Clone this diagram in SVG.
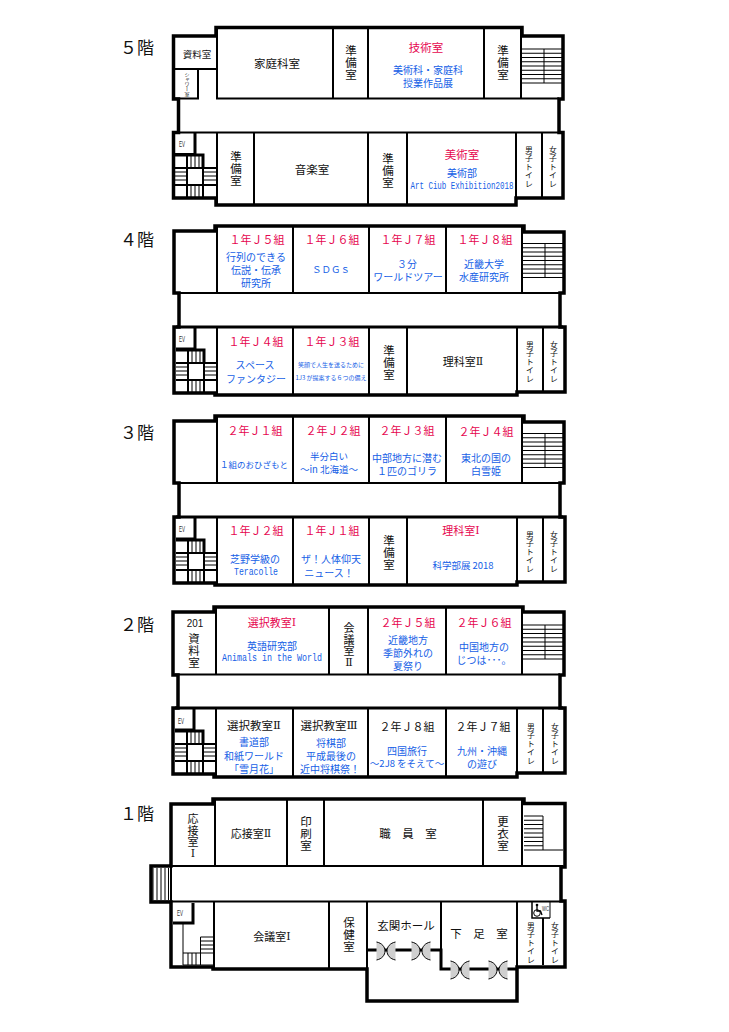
<svg xmlns="http://www.w3.org/2000/svg" xmlns:xlink="http://www.w3.org/1999/xlink" width="729" height="1032" viewBox="0 0 729 1032">
<style>
text{font-family:"Noto Sans CJK JP","Noto Sans",sans-serif;text-anchor:middle;dominant-baseline:central;fill:#111}
.r{fill:#e6064f}.b{fill:#1560e6}
.m{font-family:"Liberation Mono",monospace}
.n{font-family:"DejaVu Serif",serif}
.s6{font-size:6px}.s85{font-size:8.5px}.s95{font-size:9.5px}.s10{font-size:10px}.s11{font-size:11px}.s115{font-size:11.5px}.s12{font-size:11.5px}.s16{font-size:17px}
.v{writing-mode:vertical-rl}
.t{font-size:7.8px}
.ev{font-family:"Liberation Sans",sans-serif;font-size:9px;fill:#333}
.o{fill:#fff;stroke:#000;stroke-width:3.5}
.w{fill:none;stroke:#000;stroke-width:2}
.h{fill:none;stroke:#000;stroke-width:3}
.f{fill:none;stroke:#000;stroke-width:1}
</style>
<defs>
<g id="stairL">
<path class="h" d="M0,0H28V13"/>
<path class="w" d="M0,13H42M12,0V43M28,13V43M0,30H42"/>
<path class="f" d="M0,17H12M0,21H12M0,25H12M28,17H42M28,21H42M28,25H42M16,0V13M20,0V13M24,0V13M16,30V43M20,30V43M24,30V43"/>
</g>
<g id="stairR">
<path class="f" d="M0,0H40M0,4.25H40M0,8.5H40M0,12.75H40M0,17H40M0,21.25H40M0,25.5H40M0,29.75H40M0,34H40M22,0V34"/>
</g>
<g id="door">
<path fill="#cfcfcf" d="M-9.5,-9C-4,-8 -1,-4 -1,0C-1,4 -4,8 -9.5,9ZM9.5,-9C4,-8 1,-4 1,0C1,4 4,8 9.5,9Z"/>
<path class="f" d="M-9.5,-9C-4,-8 -1,-4 -1,0C-1,4 -4,8 -9.5,9M9.5,-9C4,-8 1,-4 1,0C1,4 4,8 9.5,9"/>
</g>
</defs>
<rect width="729" height="1032" fill="#fff"/>

<g id="floor-5">
<path class="o" d="M216,27.5H522V36H563V99H559V132.5H563V198H516V205H216V198H173.5V132.5H178.5V99H173.5V36H216Z"/>
<path class="w" d="M175,98.5H198V69H217V98.5H559M217,28V98M175,69H217M333,28V98M368,28V98M484,28V98M521,28V98M175,132.5H561M217,133V204M254,133V204M368,133V204M407,133V204M516,133V197M542,133V197"/>
<path class="h" d="M175,154.500H195V133"/>
<use xlink:href="#stairL" href="#stairL" x="175" y="155"/>
<use xlink:href="#stairR" href="#stairR" x="522" y="49"/>
<text class="s16" x="137" y="46">５階</text>
<text class="s95" x="197" y="54">資料室</text>
<text class="v" style="font-size:5px" x="187" y="84">シャワー室</text>
<text class="s115" x="277" y="63">家庭科室</text>
<text class="s12" x="351 351 351" y="50 62 74">準備室</text>
<text class="r s115" x="426" y="47">技術室</text>
<text class="b s10" x="428" y="69">美術科・家庭科</text>
<text class="b s10" x="428" y="82">授業作品展</text>
<text class="s12" x="503 503 503" y="50 62 74">準備室</text>
<text class="ev" x="182" y="144" textLength="6" lengthAdjust="spacingAndGlyphs">EV</text>
<text class="s12" x="236 236 236" y="156 168 180">準備室</text>
<text class="s115" x="312" y="169">音楽室</text>
<text class="s12" x="388 388 388" y="158 170 182">準備室</text>
<text class="r s115" x="462" y="154">美術室</text>
<text class="b s10" x="462" y="172">美術部</text>
<text class="b m" style="font-size:10.500px" x="462" y="186" textLength="103" lengthAdjust="spacingAndGlyphs">Art Ciub Exhibition2018</text>
<text class="t" x="529 529 529 529 529" y="149 157.500 166 174.500 183">男子トイレ</text>
<text class="t" x="553 553 553 553 553" y="149 157.500 166 174.500 183">女子トイレ</text>
</g>

<g id="floor-4">
<path class="o" d="M215,226H524V232H564V293H560V327H565V392H517V395H215V393H174V327H179V293H174V231H215Z"/>
<path class="w" d="M176,293H560M217,227V293M293,227V293M369,227V293M446,227V293M522,227V293M217,327V394M293,327V394M369,327V394M407,327V394M517,327V392M543,327V392"/>
<path class="h" d="M176,327H563M176,349H195V328"/>
<use xlink:href="#stairL" href="#stairL" x="176" y="350"/>
<use xlink:href="#stairR" href="#stairR" x="523" y="243.500"/>
<text class="s16" x="137" y="238">４階</text>
<text class="r s11" x="257" y="239">１年Ｊ５組</text>
<text class="r s11" x="332" y="239">１年Ｊ６組</text>
<text class="r s11" x="408" y="239">１年Ｊ７組</text>
<text class="r s11" x="485" y="239">１年Ｊ８組</text>
<text class="b s10" x="256" y="256">行列のできる</text>
<text class="b s10" x="256" y="269">伝説・伝承</text>
<text class="b s10" x="256" y="282">研究所</text>
<text class="b s95" x="331" y="269">ＳＤＧｓ</text>
<text class="b s10" x="407" y="263">３分</text>
<text class="b s10" x="408" y="276">ワールドツアー</text>
<text class="b s10" x="484" y="263">近畿大学</text>
<text class="b s10" x="484" y="276">水産研究所</text>
<text class="ev" x="182" y="339" textLength="6" lengthAdjust="spacingAndGlyphs">EV</text>
<text class="r s11" x="256" y="341">１年Ｊ４組</text>
<text class="r s11" x="332" y="341">１年Ｊ３組</text>
<text class="b s10" x="255" y="364">スペース</text>
<text class="b s10" x="256" y="378">ファンタジー</text>
<text class="b s6" x="331" y="364">笑顔で人生を送るために</text>
<text class="b s6" x="331" y="377">1J3 が提案する６つの備え</text>
<text class="s12" x="389 389 389" y="350 362 374">準備室</text>
<text class="s11" x="463" y="361">理科室<tspan class="n">Ⅱ</tspan></text>
<text class="t" x="530 530 530 530 530" y="344 352.500 361 369.500 378">男子トイレ</text>
<text class="t" x="554 554 554 554 554" y="344 352.500 361 369.500 378">女子トイレ</text>
</g>

<g id="floor-3">
<path class="o" d="M215,416H524V422H564V483H560V517H565V582H517V585H215V583H174V517H179V483H174V421H215Z"/>
<path class="w" d="M176,483H560M217,417V483M293,417V483M369,417V483M446,417V483M522,417V483M217,517V584M293,517V584M369,517V584M407,517V584M517,517V582M543,517V582"/>
<path class="h" d="M176,517H563M176,539H195V518"/>
<use xlink:href="#stairL" href="#stairL" x="176" y="540"/>
<use xlink:href="#stairR" href="#stairR" x="523" y="433.500"/>
<text class="s16" x="137" y="431">３階</text>
<text class="r s11" x="255" y="430">２年Ｊ１組</text>
<text class="r s11" x="333" y="430">２年Ｊ２組</text>
<text class="r s11" x="407" y="430">２年Ｊ３組</text>
<text class="r s11" x="486" y="431">２年Ｊ４組</text>
<text class="b s85" x="254" y="464">１組のおひざもと</text>
<text class="b s95" x="329" y="456">半分白い</text>
<text class="b s95" x="329" y="469">～in 北海道～</text>
<text class="b s10" x="407" y="457">中部地方に潜む</text>
<text class="b s10" x="407" y="470">１匹のゴリラ</text>
<text class="b s10" x="486" y="457">東北の国の</text>
<text class="b s10" x="486" y="470">白雪姫</text>
<text class="ev" x="182" y="529" textLength="6" lengthAdjust="spacingAndGlyphs">EV</text>
<text class="r s11" x="256" y="530">１年Ｊ２組</text>
<text class="r s11" x="332" y="530">１年Ｊ１組</text>
<text class="b s10" x="255" y="558">芝野学級の</text>
<text class="b m" style="font-size:11px" x="256" y="572" textLength="44" lengthAdjust="spacingAndGlyphs">Teracolle</text>
<text class="b s10" x="331" y="558">ザ！人体仰天</text>
<text class="b s10" x="329" y="572">ニュース！</text>
<text class="s12" x="389 389 389" y="540 552 564">準備室</text>
<text class="r s11" x="461" y="530">理科室<tspan class="n">Ⅰ</tspan></text>
<text class="b s95" x="463" y="565">科学部展 2018</text>
<text class="t" x="530 530 530 530 530" y="534 542.500 551 559.500 568">男子トイレ</text>
<text class="t" x="554 554 554 554 554" y="534 542.500 551 559.500 568">女子トイレ</text>
</g>

<g id="floor-2">
<path class="o" d="M214,607H523V612H564V675H560V708H565V773H517V777H214V774H173V708H178V675H173V612H214Z"/>
<path class="w" d="M175,674.500H560M216,608V674M329,608V674M368,608V674M446,608V674M522,608V674M216,708V776M293,708V776M368,708V776M446,708V776M517,708V773M543,708V773"/>
<path class="h" d="M175,708H563M175,730H194V709"/>
<use xlink:href="#stairL" href="#stairL" x="175" y="731"/>
<use xlink:href="#stairR" href="#stairR" x="523" y="625"/>
<text class="s16" x="137" y="623">２階</text>
<text style="font-family:'Liberation Sans',sans-serif;font-size:11px" x="195" y="623" textLength="16.500" lengthAdjust="spacingAndGlyphs">201</text>
<text class="s115" x="194 194 194" y="638 650 662">資料室</text>
<text class="r s11" x="272" y="622">選択教室<tspan class="n">Ⅰ</tspan></text>
<text class="b s10" x="272" y="645">英語研究部</text>
<text class="b m" style="font-size:11px" x="272" y="658" textLength="100" lengthAdjust="spacingAndGlyphs">Animals in the World</text>
<text class="s11" x="349 349 349 349" y="627 638.500 650 662">会議室<tspan class="n">Ⅱ</tspan></text>
<text class="r s11" x="408" y="622">２年Ｊ５組</text>
<text class="r s11" x="484" y="622">２年Ｊ６組</text>
<text class="b s10" x="408" y="639">近畿地方</text>
<text class="b s10" x="408" y="652">季節外れの</text>
<text class="b s10" x="408" y="665">夏祭り</text>
<text class="b s10" x="484" y="646">中国地方の</text>
<text class="b s10" x="484" y="659">じつは･･･。</text>
<text class="ev" x="181" y="721" textLength="6" lengthAdjust="spacingAndGlyphs">EV</text>
<text class="s115" x="254" y="725">選択教室<tspan class="n">Ⅱ</tspan></text>
<text class="s115" x="329" y="725">選択教室<tspan class="n">Ⅲ</tspan></text>
<text class="s11" x="407" y="726">２年Ｊ８組</text>
<text class="s11" x="483" y="726">２年Ｊ７組</text>
<text class="b s10" x="254" y="741.500">書道部</text>
<text class="b s10" x="254" y="755">和紙ワールド</text>
<text class="b s10" x="254" y="768">「雪月花」</text>
<text class="b s10" x="331" y="742">将棋部</text>
<text class="b s10" x="331" y="755">平成最後の</text>
<text class="b s10" x="330" y="768">近中将棋祭！</text>
<text class="b s10" x="407" y="750">四国旅行</text>
<text class="b s95" x="407" y="763">～2J8 をそえて～</text>
<text class="b s10" x="482" y="750">九州・沖縄</text>
<text class="b s10" x="482" y="763">の遊び</text>
<text class="t" x="531 531 531 531 531" y="726 734.500 743 751.500 760">男子トイレ</text>
<text class="t" x="555 555 555 555 555" y="726 734.500 743 751.500 760">女子トイレ</text>
</g>

<g id="floor-1">
<path class="o" d="M213,799H524V803.500H565V867H561V901H565V967H517V1001H367V969H213V967H171V902H151V866H171V804H213Z"/>
<path class="w" d="M153,866H563M171,867V901M153,901.500H563M215,800V866M287,800V866M324,800V866M483,800V866M522,800V866M214,902V968M329,902V968M367,902V968M441,902V950M517,902V967M543,902V965"/>
<path class="h" d="M367,950H441V969H517M173,923H193V903"/>
<path class="f" d="M153,868V900M157,868V900M161,868V900M165,868V900M168.500,868V900M183,923V965M183,953H214M183,965H214M188,953V965M192,953V965M196,953V965M200.500,937V965M200.500,937H214M200.500,941H214M200.500,945H214M200.500,949H214"/>
<path class="f" d="M524,816H543M524,820.250H543M524,824.500H543M524,828.750H543M524,833H543M524,837.250H543M524,841.500H543M524,845.750H543M524,850H563M543,816V850"/>
<use xlink:href="#door" href="#door" x="386" y="951"/>
<use xlink:href="#door" href="#door" x="421" y="951"/>
<use xlink:href="#door" href="#door" x="460" y="970"/>
<use xlink:href="#door" href="#door" x="498" y="970"/>
<g id="wc">
<rect x="532" y="902" width="18" height="16" fill="#fff"/>
<path fill="none" stroke="#000" stroke-width="1.500" d="M532,902V918H550"/>
<path class="f" d="M550,902V918M532,902H550"/>
<circle cx="537" cy="905" r="1.300" fill="#000"/>
<path fill="none" stroke="#000" stroke-width="1.300" d="M537,906V911H540.500L542,915"/>
<circle cx="537" cy="913" r="3.300" fill="none" stroke="#000"/>
<text class="ev" style="font-size:6.500px" x="545.500" y="908" textLength="7" lengthAdjust="spacingAndGlyphs">WC</text>
</g>
<text class="s16" x="137" y="812">１階</text>
<text class="s11" x="193 193 193 193" y="818 829.500 841 852.500">応接室<tspan class="n">Ⅰ</tspan></text>
<text class="s11" x="251" y="833">応接室<tspan class="n">Ⅱ</tspan></text>
<text class="s12" x="306 306 306" y="821 833 845">印刷室</text>
<text class="s12" x="408" y="833">職　員　室</text>
<text class="s12" x="503 503 503" y="821 833 845">更衣室</text>
<text class="ev" x="180" y="913" textLength="6" lengthAdjust="spacingAndGlyphs">EV</text>
<text class="s11" x="272" y="936">会議室<tspan class="n">Ⅰ</tspan></text>
<text class="s115" x="349 349 349" y="922 934 946">保健室</text>
<text class="s115" x="406" y="925">玄関ホール</text>
<text class="s115" x="479" y="933">下　足　室</text>
<text class="t" x="531 531 531 531 531" y="925 933.500 942 950.500 959">男子トイレ</text>
<text class="t" x="555 555 555 555 555" y="925 933.500 942 950.500 959">女子トイレ</text>
</g>
</svg>
